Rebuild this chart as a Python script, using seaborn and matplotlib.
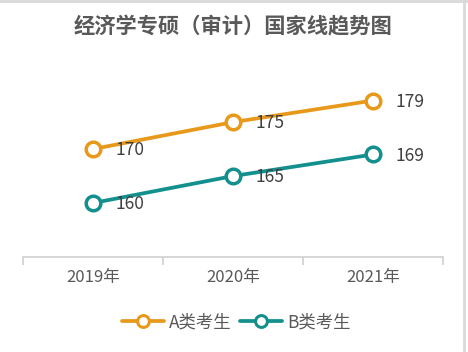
import pandas as pd
import matplotlib.pyplot as plt
import seaborn as sns
from matplotlib.lines import Line2D

years = ['2019年', '2020年', '2021年']
series_names = ['A类考生', 'B类考生']
a_scores = [170, 175, 179]
b_scores = [160, 165, 169]
colors = ['#E8991C', '#13908E']

sns.set_theme(style='white')
plt.rcParams['font.family'] = ['Noto Sans CJK SC', 'DejaVu Sans']

df = pd.DataFrame({
    'pos': list(range(len(years))) * 2,
    'score': a_scores + b_scores,
    'group': [series_names[0]] * len(years) + [series_names[1]] * len(years),
})

fig = plt.figure(figsize=(4.68, 3.52), dpi=100)
ax = fig.add_axes([0.049, 0.27, 0.898, 0.613])

for name, c in zip(series_names, colors):
    sns.lineplot(data=df[df['group'] == name], x='pos', y='score', color=c,
                 marker='o', markersize=10.5, markerfacecolor='white',
                 markeredgecolor=c, markeredgewidth=2.5, linewidth=2.7, ax=ax)

# value labels to the right of each point
for scores in (a_scores, b_scores):
    for i, v in enumerate(scores):
        ax.annotate(str(v), (i, v), xytext=(16, -1), textcoords='offset points',
                    ha='left', va='center', fontsize=12.5, color='#404040')

ax.set_xlim(-0.5, 2.5)
ax.set_ylim(150, 190)
ax.set_xticks(range(len(years)))
ax.set_xticklabels(years, fontsize=12, color='#595959')
ax.set_xticks([-0.5, 0.5, 1.5, 2.5], minor=True)
ax.tick_params(axis='x', which='major', length=0, pad=9)
ax.tick_params(axis='x', which='minor', bottom=True, length=6, width=1.2,
               color='#d0d0d0', direction='out')
ax.set_yticks([])
ax.set_xlabel('')
ax.set_ylabel('')
for side in ['top', 'right', 'left']:
    ax.spines[side].set_visible(False)
ax.spines['bottom'].set_color('#d0d0d0')
ax.spines['bottom'].set_linewidth(1.2)

fig.text(0.497, 0.925, '经济学专硕（审计）国家线趋势图', ha='center', va='center',
         fontsize=15.3, fontweight='bold', color='#595959')

handles = [Line2D([], [], color=c, linewidth=2.7, marker='o', markersize=8.5,
                  markerfacecolor='white', markeredgecolor=c, markeredgewidth=2.2)
           for c in colors]
fig.legend(handles, series_names, loc='center', bbox_to_anchor=(0.505, 0.085),
           ncol=2, frameon=False, fontsize=12.5, handlelength=2.4,
           columnspacing=0.5, handletextpad=0.3, labelcolor='#595959')

# light frame along the top and right edges
fig.add_artist(Line2D([0, 1], [0.996, 0.996], transform=fig.transFigure,
                      color='#d9d9d9', linewidth=2))
fig.add_artist(Line2D([0.992, 0.992], [0, 1], transform=fig.transFigure,
                      color='#d9d9d9', linewidth=2))

fig.savefig('out.png', dpi=100)
